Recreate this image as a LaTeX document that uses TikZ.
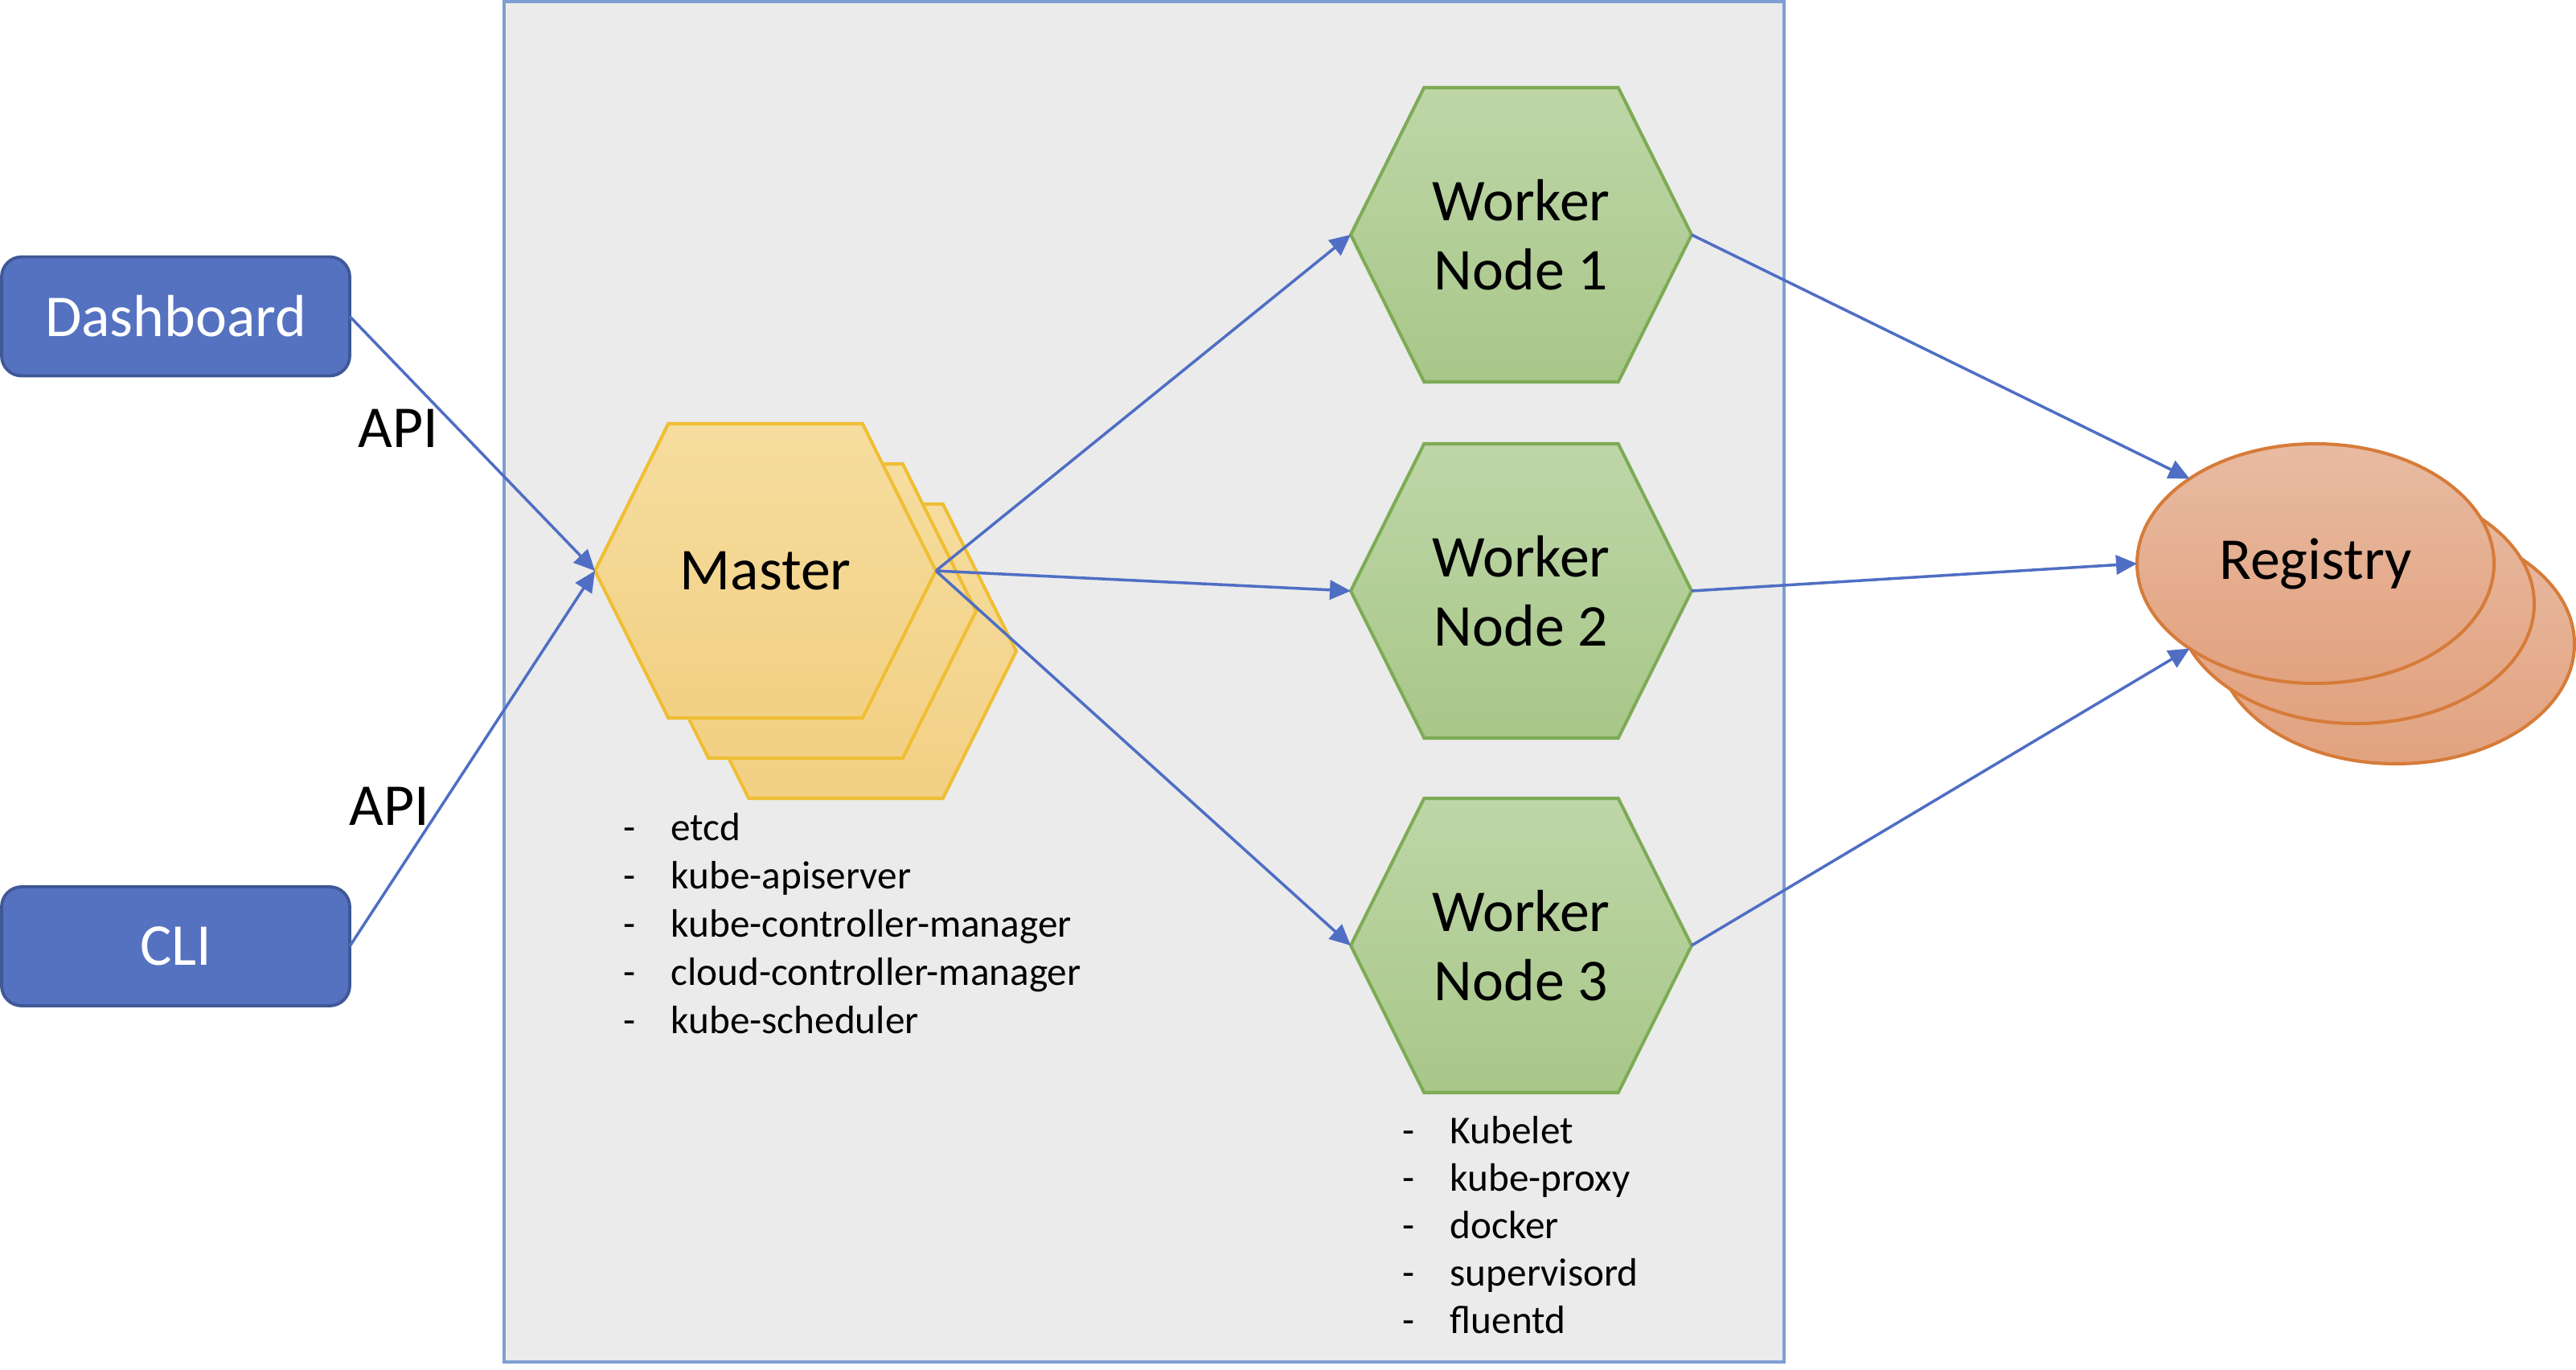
\documentclass[tikz,border=0pt]{standalone}
\usepackage{fontspec}
\setmainfont{Carlito}
\usepackage{tikz}
\usetikzlibrary{arrows.meta, shapes.geometric, shapes.symbols}

\definecolor{boxfill}{HTML}{EBEBEB}
\definecolor{boxline}{HTML}{7F9ED4}
\definecolor{cliblue}{HTML}{5572C1}
\definecolor{cliline}{HTML}{3F5896}
\definecolor{arrowblue}{HTML}{4F6EC4}
\definecolor{mastertop}{HTML}{F6DD9F}
\definecolor{masterbot}{HTML}{F2D084}
\definecolor{masterline}{HTML}{EFBE33}
\definecolor{workertop}{HTML}{BED6A7}
\definecolor{workerbot}{HTML}{A8C789}
\definecolor{workerline}{HTML}{7DAB55}
\definecolor{regtop}{HTML}{E8BBA2}
\definecolor{regbot}{HTML}{E2A27F}
\definecolor{regline}{HTML}{D67B39}

\newcommand{\hexfont}{\fontsize{21}{24.5}\selectfont}
\newcommand{\itemfont}{\fontsize{14}{17}\selectfont}

\begin{document}
\begin{tikzpicture}[
    font=\hexfont,
    panel/.style={
        draw=boxline,
        fill=boxfill,
        line width=1pt
    },
    client/.style={
        draw=cliline,
        fill=cliblue,
        rectangle,
        rounded corners=0.25cm,
        minimum width=4.33cm,
        minimum height=1.48cm,
        inner sep=0pt,
        outer sep=0pt,
        line width=1.1pt,
        text=white
    },
    hexa/.style={
        signal,
        signal to=west and east,
        signal pointer angle=127,
        minimum width=4.24cm,
        minimum height=3.66cm,
        inner sep=0pt,
        outer sep=0pt,
        line width=1.15pt,
        align=center
    },
    master/.style={
        hexa,
        draw=masterline,
        top color=mastertop,
        bottom color=masterbot
    },
    worker/.style={
        hexa,
        draw=workerline,
        top color=workertop,
        bottom color=workerbot
    },
    registry/.style={
        ellipse,
        minimum width=4.44cm,
        minimum height=2.98cm,
        inner sep=0pt,
        outer sep=0pt,
        line width=1.15pt,
        draw=regline,
        top color=regtop,
        bottom color=regbot
    },
    arrow/.style={
        -{Triangle[length=0.26cm,width=0.24cm]},
        line width=1pt,
        draw=arrowblue
    },
    listitem/.style={
        font=\itemfont,
        anchor=base west,
        inner sep=0pt
    },
    apilabel/.style={
        inner sep=0pt
    }
]

\useasboundingbox (0,0) rectangle (32.04,-17.04);

% ============================================================
% Cluster panel
% ============================================================

\draw[panel] (6.27,-0.02) rectangle (22.19,-16.94);

% ============================================================
% Clients
% ============================================================

\node[client] (dash) at (2.185,-3.935) {Dashboard};
\node[client] (cli)  at (2.185,-11.77) {CLI};

% ============================================================
% Master, stacked copies behind
% ============================================================

\node[master] (master3) at (10.52,-8.10) {};
\node[master] (master2) at (10.02,-7.60) {};
\node[master] (master)  at (9.52,-7.10)  {Master};

\foreach \t [count=\i from 0] in {etcd, kube-apiserver, kube-controller-manager, cloud-controller-manager, kube-scheduler} {
    \node[listitem] (mi\i) at (7.75,{-10.45-0.60*\i}) {\makebox[0.59cm][l]{-}\t};
}

% ============================================================
% Worker nodes
% ============================================================

\foreach \i/\y in {1/-2.92,2/-7.35,3/-11.76} {
    \node[worker] (w\i) at (18.92,\y) {Worker\\Node \i};
}

\foreach \t [count=\i from 0] in {Kubelet, kube-proxy, docker, supervisord, fluentd} {
    \node[listitem] (wi\i) at (17.44,{-14.22-0.59*\i}) {\makebox[0.59cm][l]{-}\t};
}

% ============================================================
% Registry, stacked copies behind
% ============================================================

\node[registry] (reg3) at (29.80,-8.01) {};
\node[registry] (reg2) at (29.30,-7.51) {};
\node[registry] (reg)  at (28.80,-7.01) {Registry};

% ============================================================
% Connectors
% ============================================================

\draw[arrow] (dash.east) -- (master.west);
\draw[arrow] (cli.east) -- (master.west);

\node[apilabel] (api1) at (4.95,-5.33)  {API};
\node[apilabel] (api2) at (4.84,-10.03) {API};

\foreach \i in {1,2,3} {
    \draw[arrow] (master.east) -- (w\i.west);
}

\draw[arrow] (w1.east) -- (reg.146);
\draw[arrow] (w2.east) -- (reg.west);
\draw[arrow] (w3.east) -- (reg.214);
\end{tikzpicture}
\end{document}
